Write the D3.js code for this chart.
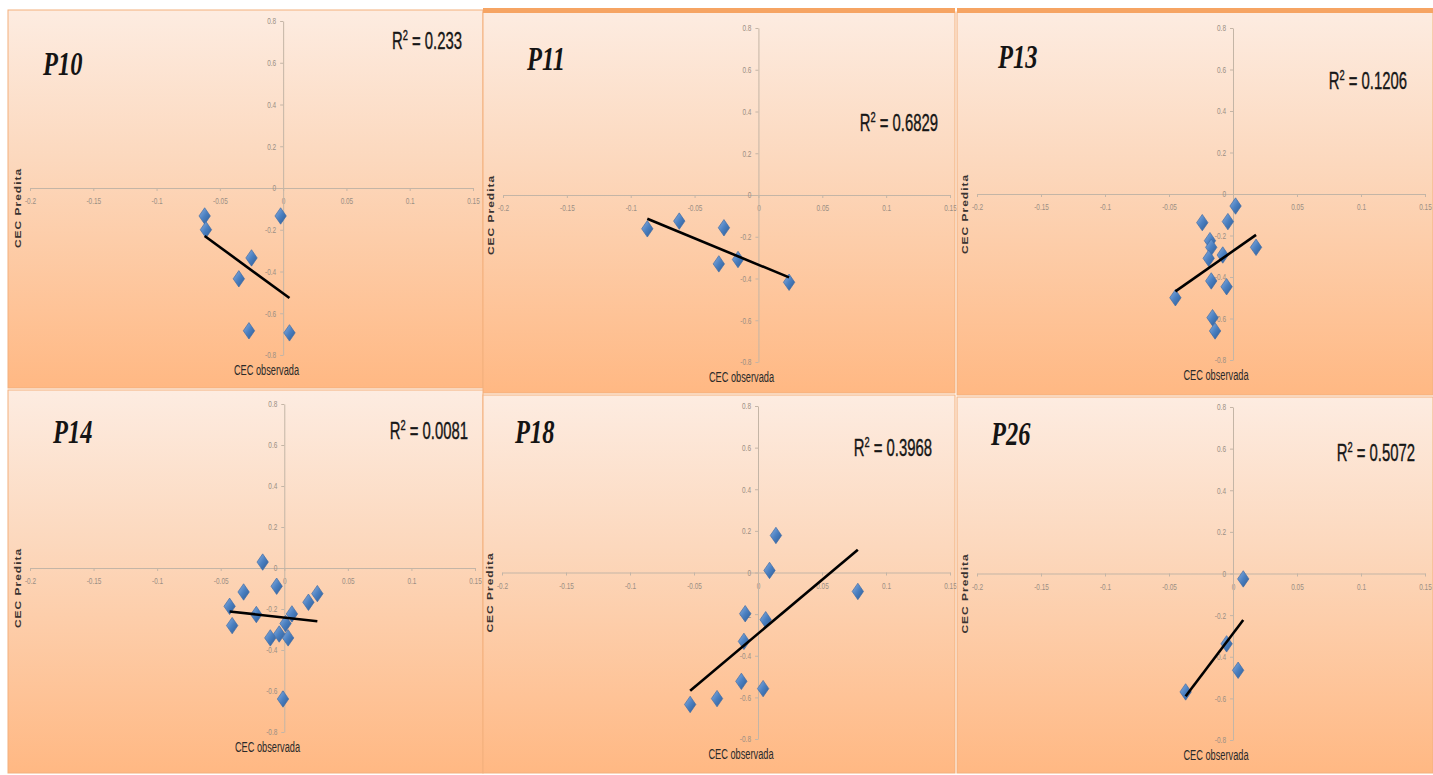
<!DOCTYPE html>
<html>
<head>
<meta charset="utf-8">
<script src="https://cdn.jsdelivr.net/npm/d3@7"></script>
<style>
html, body { margin: 0; padding: 0; background: #fff; }
svg { display: block; }
.tick text { font-family: "Liberation Sans Narrow", "Liberation Sans", sans-serif; font-size: 9px; fill: #9b8f84; }
.tick line, .domain { stroke: #c4b5a6; }
</style>
</head>
<body>
<svg id="chart" width="1433" height="775"></svg>
<script>
// values
const panelNames = ['P10', 'P11', 'P13', 'P14', 'P18', 'P26'];
const r2Labels = ['0.233', '0.6829', '0.1206', '0.0081', '0.3968', '0.5072'];
const xTicks = [-0.2, -0.15, -0.1, -0.05, 0, 0.05, 0.1, 0.15];
const yTicks = [0.8, 0.6, 0.4, 0.2, 0, -0.2, -0.4, -0.6, -0.8];
const xTitle = 'CEC observada', yTitle = 'CEC Predita';

const obsP10  = [-0.062, -0.061, -0.002, -0.025, -0.035, -0.027, 0.005];
const predP10 = [-0.134, -0.200, -0.134, -0.335, -0.435, -0.684, -0.694];

const obsP11  = [-0.087, -0.062, -0.027, -0.031, -0.016, 0.024];
const predP11 = [-0.162, -0.125, -0.157, -0.330, -0.309, -0.418];

const obsP13  = [0.002, -0.024, -0.004, -0.018, -0.017, -0.019, -0.008, 0.018, -0.017, -0.005, -0.045, -0.016, -0.014];
const predP13 = [-0.058, -0.138, -0.133, -0.225, -0.257, -0.310, -0.294, -0.257, -0.419, -0.447, -0.500, -0.596, -0.660];

const obsP14  = [-0.017, -0.006, -0.032, -0.043, -0.022, -0.041, -0.011, -0.004, 0.003, 0.001, 0.006, 0.019, 0.026, -0.001];
const predP14 = [0.029, -0.089, -0.117, -0.187, -0.227, -0.281, -0.341, -0.322, -0.341, -0.271, -0.224, -0.167, -0.125, -0.639];

const obsP18  = [0.014, 0.009, 0.078, -0.010, 0.006, -0.011, -0.013, 0.004, -0.032, -0.053];
const predP18 = [0.178, 0.010, -0.091, -0.198, -0.227, -0.331, -0.523, -0.558, -0.606, -0.634];

const obsP26  = [0.008, -0.005, 0.004, -0.037];
const predP26 = [-0.026, -0.338, -0.465, -0.569];

const observed  = [obsP10, obsP11, obsP13, obsP14, obsP18, obsP26];
const predicted = [predP10, predP11, predP13, predP14, predP18, predP26];

// where each pasted chart sits on the page
const layout = [
  { box: [8, 10, 483, 388],    plot: [30, 473, 21, 355],   name: [43, 75],   r2: [462, 48],   cap: false },
  { box: [483, 12, 955, 393],  plot: [503, 950, 28, 362],  name: [527, 70],  r2: [938, 130],  cap: true },
  { box: [957, 12, 1433, 395], plot: [977, 1425, 28, 360], name: [998, 68],  r2: [1407, 88],  cap: true },
  { box: [8, 390, 483, 773],   plot: [30, 475, 404, 732],  name: [53, 443],  r2: [468, 438],  cap: false },
  { box: [483, 395, 955, 773], plot: [502, 950, 406, 739], name: [515, 443], r2: [932, 455],  cap: false },
  { box: [957, 397, 1433, 773],plot: [977, 1425, 407, 740],name: [991, 445], r2: [1415, 460], cap: false }
];

const squeeze = 0.72; // the picture is squashed sideways

const svg = d3.select('#chart');
const defs = svg.append('defs');

const bg = defs.append('linearGradient')
  .attr('id', 'bg').attr('x1', 0).attr('y1', 0).attr('x2', 0).attr('y2', 1);
bg.append('stop').attr('offset', '0%').attr('stop-color', '#fdece1');
bg.append('stop').attr('offset', '40%').attr('stop-color', '#fcd8bd');
bg.append('stop').attr('offset', '100%').attr('stop-color', '#ffb883');

const dia = defs.append('linearGradient')
  .attr('id', 'dia').attr('x1', 0).attr('y1', 0).attr('x2', 1).attr('y2', 1);
dia.append('stop').attr('offset', '0%').attr('stop-color', '#8db2e2');
dia.append('stop').attr('offset', '50%').attr('stop-color', '#4a7fc0');
dia.append('stop').attr('offset', '100%').attr('stop-color', '#2c5a93');

const diamond = d3.symbol(d3.symbolDiamond, 78)();

function fit(xs, ys) {
  const mx = d3.mean(xs), my = d3.mean(ys);
  let sxy = 0, sxx = 0;
  xs.forEach((x, i) => { sxy += (x - mx) * (ys[i] - my); sxx += (x - mx) * (x - mx); });
  const b = sxy / sxx;
  return x => my + b * (x - mx);
}

panelNames.forEach((name, k) => {
  const L = layout[k];
  const [bx0, by0, bx1, by1] = L.box;
  const [px0, px1, py0, py1] = L.plot;
  const xs = observed[k], ys = predicted[k];

  const g = svg.append('g');

  g.append('rect')
    .attr('x', bx0).attr('y', by0)
    .attr('width', bx1 - bx0).attr('height', by1 - by0)
    .attr('fill', 'url(#bg)')
    .attr('stroke', '#f3b07d').attr('stroke-width', 1);
  if (L.cap)
    g.append('rect')
      .attr('x', bx0).attr('y', by0 - 4)
      .attr('width', bx1 - bx0).attr('height', 5)
      .attr('fill', '#f6a463');

  const sx = d3.scaleLinear().domain([-0.2, 0.15]).range([px0, px1]);
  const sy = d3.scaleLinear().domain([0.8, -0.8]).range([py0, py1]);

  g.append('g')
    .attr('transform', `translate(0,${sy(0)})`)
    .call(d3.axisBottom(sx).tickValues(xTicks).tickFormat(d => String(d))
      .tickSizeInner(3).tickSizeOuter(0).tickPadding(7))
    .call(a => a.selectAll('text').attr('transform', `scale(${squeeze},1)`));

  g.append('g')
    .attr('transform', `translate(${sx(0)},0)`)
    .call(d3.axisLeft(sy).tickValues(yTicks).tickFormat(d => String(d))
      .tickSizeInner(3).tickSizeOuter(0).tickPadding(4))
    .call(a => a.selectAll('text')
      .attr('x', -7 / squeeze)
      .attr('transform', `scale(${squeeze},1)`));

  // points
  g.append('g').selectAll('path').data(xs.map((x, i) => [x, ys[i]])).join('path')
    .attr('d', diamond)
    .attr('transform', d => `translate(${sx(d[0])},${sy(d[1])}) scale(1.2,1)`)
    .attr('fill', 'url(#dia)')
    .attr('stroke', '#3d6aa3').attr('stroke-width', 0.6);

  // linear trend line over the data range
  const f = fit(xs, ys);
  const [lo, hi] = d3.extent(xs);
  g.append('path')
    .datum([lo, hi])
    .attr('d', d3.line().x(d => sx(d)).y(d => sy(f(d))))
    .attr('fill', 'none').attr('stroke', '#000').attr('stroke-width', 2.6);

  // titles
  g.append('text')
    .attr('transform', `translate(${(px0 + px1) / 2 + 15},${py1 + 20}) scale(0.66,1)`)
    .attr('text-anchor', 'middle')
    .style('font-family', '"Liberation Sans Narrow", "Liberation Sans", sans-serif')
    .style('font-size', '14px').style('fill', '#2a2a2a')
    .text(xTitle);

  g.append('text')
    .attr('transform', `translate(${px0 - 12},${(py0 + py1) / 2 + 20}) rotate(-90) scale(1,${squeeze})`)
    .attr('text-anchor', 'middle').attr('dy', '0.35em')
    .style('font-family', '"Liberation Sans", sans-serif')
    .style('font-weight', 'bold').style('font-size', '12px')
    .style('letter-spacing', '1px').style('fill', '#3a3330')
    .text(yTitle);

  g.append('text')
    .attr('transform', `translate(${L.name[0]},${L.name[1]}) scale(${squeeze},1)`)
    .style('font-family', '"Liberation Serif", "Times New Roman", serif')
    .style('font-weight', 'bold').style('font-style', 'italic')
    .style('font-size', '34px').style('fill', '#141414')
    .text(name);

  const r2 = g.append('text')
    .attr('transform', `translate(${L.r2[0]},${L.r2[1] + 1}) scale(0.62,1)`)
    .attr('text-anchor', 'end')
    .style('font-family', '"Liberation Sans Narrow", "Liberation Sans", sans-serif')
    .style('font-size', '24px').style('fill', '#161616')
    .style('stroke', '#161616').style('stroke-width', 0.4);
  r2.append('tspan').text('R');
  r2.append('tspan').attr('dy', -9).style('font-size', '15px').text('2');
  r2.append('tspan').attr('dy', 9).text(' = ' + r2Labels[k]);
});
</script>
</body>
</html>
